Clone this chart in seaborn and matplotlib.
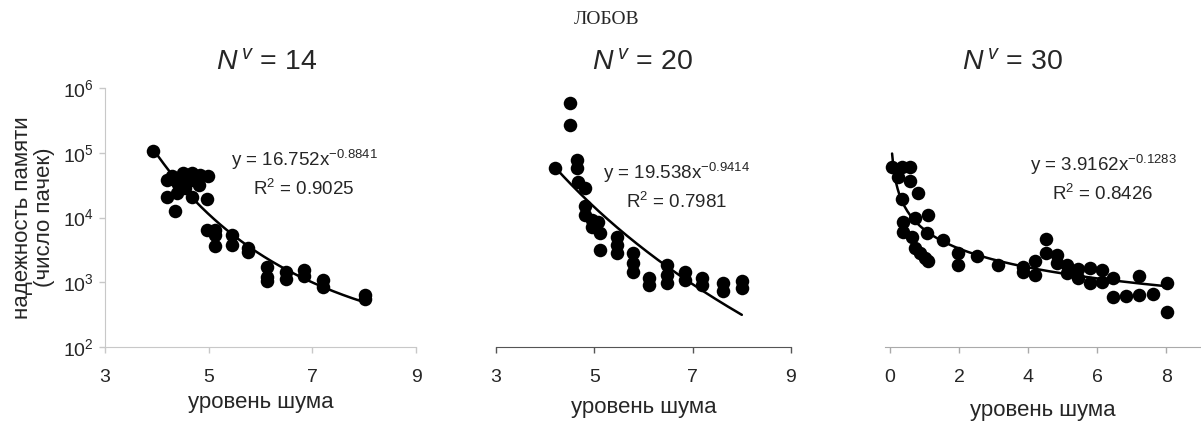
import numpy as np
import pandas as pd
import matplotlib
matplotlib.use("Agg")
import matplotlib.pyplot as plt
import seaborn as sns

# ---- data (noise level vs memory reliability) ----
x14 = [3.93, 4.20, 4.20, 4.30, 4.35, 4.39, 4.35, 4.40, 4.50, 4.50, 4.55, 4.60,
       4.68, 4.68, 4.65, 4.75, 4.83, 4.82, 4.99, 4.97, 4.97, 5.12, 5.12, 5.12,
       5.45, 5.45, 5.76, 5.76, 6.13, 6.13, 6.13, 6.50, 6.50, 6.84, 6.84, 7.21,
       7.21, 8.02, 8.02]
y14 = [105000, 38000, 21000, 43000, 38000, 24000, 12500, 33000, 49000, 37000,
       29000, 45000, 49000, 21000, 38000, 42000, 46000, 32000, 43000, 19000,
       6500, 6500, 5400, 3600, 5300, 3800, 3400, 2950, 1750, 1200, 1050, 1450,
       1120, 1550, 1250, 1100, 850, 630, 560]

x20 = [4.20, 4.50, 4.50, 4.65, 4.65, 4.67, 4.81, 4.81, 4.81, 4.95, 4.95, 5.07,
       5.11, 5.11, 5.46, 5.46, 5.46, 5.78, 5.78, 5.78, 6.11, 6.11, 6.47, 6.47,
       6.47, 6.84, 6.84, 7.20, 7.20, 7.61, 7.61, 8.00, 8.00]
y20 = [59000, 590000, 270000, 78000, 59000, 35000, 29000, 15000, 11000, 9100,
       7200, 8500, 5800, 3200, 5000, 3800, 2800, 2800, 2000, 1450, 1180, 920,
       1860, 1300, 970, 1450, 1100, 1180, 920, 970, 740, 1050, 810]

x30 = [0.06, 0.35, 0.58, 0.23, 0.58, 0.81, 0.35, 0.38, 0.72, 1.10, 0.38, 0.64,
       1.07, 0.72, 0.87, 1.01, 1.10, 1.54, 1.97, 1.97, 2.52, 3.13, 3.86, 3.86,
       4.20, 4.20, 4.52, 4.52, 4.84, 4.84, 5.13, 5.13, 5.45, 5.45, 5.80, 5.80,
       6.14, 6.14, 6.46, 6.46, 6.84, 7.20, 7.20, 7.60, 8.03, 8.03]
y30 = [61000, 61000, 61000, 42000, 36000, 24000, 19000, 8500, 9800, 11000,
       6000, 5000, 5800, 3400, 2800, 2400, 2100, 4500, 2800, 1850, 2500, 1850,
       1750, 1450, 2100, 1300, 4700, 2800, 2600, 2000, 1850, 1380, 1600, 1150,
       1650, 980, 1550, 1000, 1180, 590, 610, 1250, 630, 660, 980, 350]

titles = ["14", "20", "30"]
equations = ["y = 16.752x$^{-0.8841}$", "y = 19.538x$^{-0.9414}$", "y = 3.9162x$^{-0.1283}$"]
r2_labels = ["R$^{2}$ = 0.9025", "R$^{2}$ = 0.7981", "R$^{2}$ = 0.8426"]
xticks = [[3, 5, 7, 9], [3, 5, 7, 9], [0, 2, 4, 6, 8]]

sns.set_style("white")
plt.rcParams["font.family"] = ["Liberation Sans", "DejaVu Sans"]
plt.rcParams["mathtext.fontset"] = "custom"
plt.rcParams["mathtext.rm"] = "Liberation Sans"
plt.rcParams["mathtext.it"] = "Liberation Sans:italic"

W, H = 1201, 425
fig = plt.figure(figsize=(W / 100, H / 100), dpi=100)

def px_axes(l, r, t, b):
    return fig.add_axes([l / W, 1 - b / H, (r - l) / W, (b - t) / H])

axes = [px_axes(105, 416, 88, 347), px_axes(496, 791, 88, 347), px_axes(885, 1201, 88, 347)]
xlims = [(3, 9), (3, 9), (-0.145, 9)]
spine_cols = ["#c8c8c8", "#555555", "#aaaaaa"]
title_x = [267, 642, 1012]
eq_x = [304, 677, 1103]
eq_y = [160, 173, 165]
xlabel_pad = [4, 8, 10]
fit_deg = [2, 1, 1]

datasets = [(x14, y14), (x20, y20), (x30, y30)]
for i, (ax, (xs, ys)) in enumerate(zip(axes, datasets)):
    df = pd.DataFrame({"x": xs, "y": ys})
    sns.scatterplot(data=df, x="x", y="y", ax=ax, color="black", s=95,
                    edgecolor="black", linewidth=0, zorder=3)
    # trend line fitted to the points (log-log polynomial)
    coef = np.polyfit(np.log10(df["x"]), np.log10(df["y"]), fit_deg[i])
    xf = np.linspace(df["x"].min(), df["x"].max(), 200)
    sns.lineplot(x=xf, y=10 ** np.polyval(coef, np.log10(xf)), ax=ax,
                 color="black", linewidth=1.8, zorder=4)
    ax.set_yscale("log")
    ax.set_ylim(1e2, 1e6)
    ax.set_xlim(*xlims[i])
    ax.set_xticks(xticks[i])
    ax.set_xticklabels([str(t) for t in xticks[i]])
    ax.tick_params(axis="x", labelsize=14, length=4, width=1, color=spine_cols[i],
                   direction="out", pad=12, bottom=True)
    for s in ["top", "right"]:
        ax.spines[s].set_visible(False)
    ax.spines["bottom"].set_color(spine_cols[i])
    ax.spines["left"].set_color(spine_cols[i])
    ax.set_xlabel("уровень шума", fontsize=16, labelpad=xlabel_pad[i])
    ax.set_ylabel("")
    if i == 0:
        ax.set_yticks([1e2, 1e3, 1e4, 1e5, 1e6])
        ax.tick_params(axis="y", labelsize=14, length=4, width=1,
                       color=spine_cols[i], left=True, which="major", pad=4)
        ax.tick_params(axis="y", which="minor", left=False)
        ax.set_ylabel("надежность памяти\n(число пачек)", fontsize=16, labelpad=6,
                      linespacing=1.05)
    else:
        ax.spines["left"].set_visible(False)
        ax.set_yticks([])
        ax.tick_params(axis="y", which="minor", left=False)
    fig.text(title_x[i] / W, 1 - 63 / H, "$\\mathit{N}^{\\,v}$ = " + titles[i],
             fontsize=20.5, ha="center", va="center")
    fig.text(eq_x[i] / W, 1 - eq_y[i] / H, equations[i], fontsize=13.5,
             ha="center", va="center")
    fig.text(eq_x[i] / W, 1 - (eq_y[i] + 29) / H, r2_labels[i], fontsize=13.5,
             ha="center", va="center")

fig.text(607 / W, 1 - 20 / H, "ЛОБОВ", fontsize=14, family="Liberation Serif",
         ha="center", va="center")

fig.savefig("out.png", dpi=100)
